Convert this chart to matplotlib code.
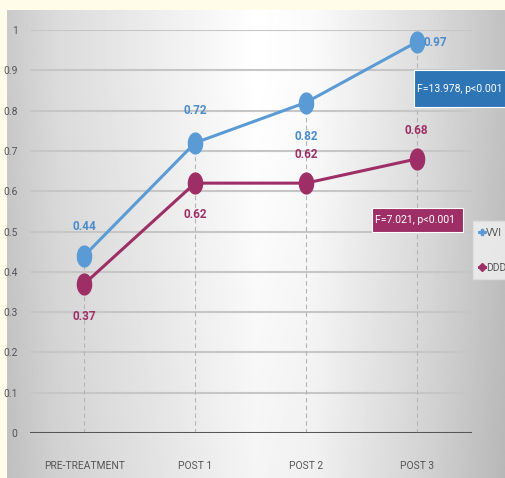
import numpy as np
import matplotlib.pyplot as plt
from matplotlib.path import Path
from matplotlib.lines import Line2D
from matplotlib.patches import Rectangle

# data
categories = ["PRE-TREATMENT", "POST 1", "POST 2", "POST 3"]
vvi = [0.44, 0.72, 0.82, 0.97]
ddd = [0.37, 0.62, 0.62, 0.68]
series_names = ["VVI", "DDD"]
stat_vvi = "F=13.978, p<0.001"
stat_ddd = "F=7.021, p<0.001"
yticks = [0, 0.1, 0.2, 0.3, 0.4, 0.5, 0.6, 0.7, 0.8, 0.9, 1]
ytick_labels = ["0", "0.1", "0.2", "0.3", "0.4", "0.5", "0.6", "0.7", "0.8", "0.9", "1"]

BLUE = "#5b9bd5"
MAROON = "#9e2f66"
BLUE_BOX = "#2e75b6"

plt.rcParams["font.family"] = ["Roboto", "DejaVu Sans"]

fig = plt.figure(figsize=(5.05, 4.78), dpi=100)
fig.patch.set_facecolor("#fffde9")
W, H = 505, 478

# gradient panel behind the chart
bg = fig.add_axes([7 / W, 0, 498 / W, 468 / H])
bg.set_axis_off()
xs = np.linspace(0, 1, 300)
prof = np.interp(xs, [0, 0.1, 0.5, 0.62, 0.85, 1], [0.79, 0.86, 1.0, 0.98, 0.86, 0.76])
ys = np.linspace(0, 1, 200)
vprof = np.interp(ys, [0, 0.15, 1], [0.0, 0.0, 0.04])
img = np.clip(prof[None, :] - vprof[:, None], 0, 1)
bg.imshow(img, cmap="gray", vmin=0, vmax=1, aspect="auto", extent=[0, 1, 0, 1])

ax = fig.add_axes([30 / W, 45 / H, 442 / W, 403 / H])
ax.patch.set_alpha(0)
x = np.arange(len(categories))
ax.set_xlim(-0.49, 3.5)
ax.set_ylim(0, 1)

for yv in yticks[1:]:
    ax.axhline(yv, color="#c6c6c6", lw=1.5, zorder=1)
ax.axhline(0, color="#555555", lw=2.2, zorder=2)

# drop lines
for xi, top in zip(x, np.maximum(vvi, ddd)):
    ax.plot([xi, xi], [0, top], color="#b5b5b5", lw=0.8, ls=(0, (4, 3)), zorder=1)

# tall ellipse marker
t = np.linspace(0, 2 * np.pi, 60)
ell = Path(np.column_stack([0.68 * np.cos(t), np.sin(t)]))

ax.plot(x, vvi, color=BLUE, lw=2.2, marker=ell, ms=15, zorder=4, clip_on=False)
ax.plot(x, ddd, color=MAROON, lw=2.2, marker=ell, ms=15, zorder=4, clip_on=False)

lab = dict(fontsize=8.5, ha="center", va="center", fontweight="bold", zorder=5)
vvi_off = [(0, 0.073), (0, 0.08), (0, -0.085), (0.17, 0.0)]
ddd_off = [(0, -0.08), (0, -0.077), (0, 0.07), (0, 0.07)]
for xi, v, (dx, dy) in zip(x, vvi, vvi_off):
    ax.text(xi + dx, v + dy, f"{v:.2f}", color="#4a8ccc", **lab)
for xi, v, (dx, dy) in zip(x, ddd, ddd_off):
    ax.text(xi + dx, v + dy, f"{v:.2f}", color=MAROON, **lab)

# stat boxes (pixel placement from the top-left)
def stat_box(x0, x1, y0, y1, color, txt, fs):
    fig.patches.append(Rectangle((x0 / W, 1 - y1 / H), (x1 - x0) / W, (y1 - y0) / H,
                                 transform=fig.transFigure, fc=color, ec="white",
                                 lw=0.8, zorder=6))
    fig.text((x0 + 3) / W, 1 - (y0 + y1) / 2 / H, txt, color="white", fontsize=fs,
             ha="left", va="center", zorder=7)

stat_box(414, 510, 70, 107, BLUE_BOX, stat_vvi, 7.5)
stat_box(372, 463, 208, 232, MAROON, stat_ddd, 7.6)

handles = [Line2D([], [], color=BLUE, lw=2, marker="P", ms=5),
           Line2D([], [], color=MAROON, lw=2, marker="D", ms=4.5)]
leg = ax.legend(handles, series_names, loc="center left", bbox_to_anchor=(0.998, 0.454),
                frameon=True, fontsize=7.5, handlelength=0.5, handletextpad=0.1,
                labelspacing=2.4, borderpad=0.3, labelcolor="#555555")
leg.get_frame().set_facecolor("#f2f2f2")
leg.get_frame().set_edgecolor("#e0e0e0")
leg.get_frame().set_boxstyle("square")

ax.set_yticks(yticks)
ax.set_yticklabels(ytick_labels)
ax.set_xticks(x)
ax.set_xticklabels(categories)
ax.tick_params(length=0, labelsize=7.4, colors="#555555")
ax.tick_params(axis="x", pad=20)
ax.tick_params(axis="y", pad=9)
for s in ax.spines.values():
    s.set_visible(False)
ax.grid(False)

fig.savefig("out.png", dpi=100, facecolor=fig.get_facecolor())
